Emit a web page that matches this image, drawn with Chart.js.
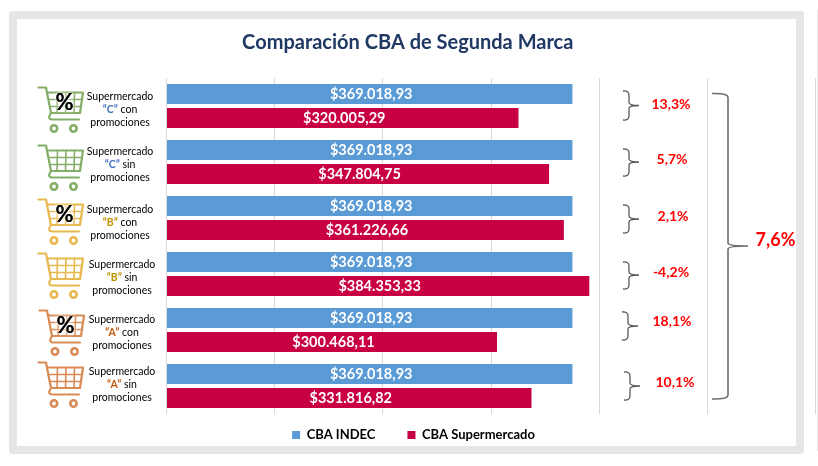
<!DOCTYPE html>
<html>
<head>
<meta charset="utf-8">
<style>
  body { margin: 0; background: #fff; }
  #frame { position: absolute; left: 9px; top: 11px; width: 779px; height: 427px; border: 8px solid #e6e6e6; border-radius: 3px; }
  #edge { position: absolute; left: 817px; top: 10px; width: 1px; height: 441px; background: #e8e8e8; }
  #c { position: absolute; left: 0; top: 0; }
</style>
</head>
<body>
<div id="frame"></div>
<div id="edge"></div>
<canvas id="c" width="818" height="466"></canvas>
<script src="https://cdn.jsdelivr.net/npm/chart.js@4/dist/chart.umd.js"></script>
<script>
const categories = [
  'Supermercado “C” con promociones',
  'Supermercado “C” sin promociones',
  'Supermercado “B” con promociones',
  'Supermercado “B” sin promociones',
  'Supermercado “A” con promociones',
  'Supermercado “A” sin promociones'
];
const cbaIndec = [369018.93, 369018.93, 369018.93, 369018.93, 369018.93, 369018.93];
const cbaSuper = [320005.29, 347804.75, 361226.66, 384353.33, 300468.11, 331816.82];
const diffs = [13.3, 5.7, 2.1, -4.2, 18.1, 10.1];
const totalDiff = 7.6;

const FONT = 'Lato, Carlito, sans-serif';
const BLUE = '#5b9bd5';
const RED = '#c80041';

// cart colour and brand text colour per row
const cartColors = ['#84ae67', '#84ae67', '#e8b84e', '#e8b84e', '#d98b56', '#d98b56'];
const brandColors = ['#4472c4', '#4472c4', '#bf9000', '#bf9000', '#c55a11', '#c55a11'];
const hasPercent = [true, false, true, false, true, false];

// hand placed decoration, all in page pixels
const cartPos = [[38, 87], [38, 145], [38, 199], [38, 253], [39, 310], [38, 362]];
const labelPos = [[120, 110], [120, 165], [120, 223], [122, 278], [122, 333], [122, 385]];
const diffPos = [[671, 104], [672, 159], [673, 216], [671, 272], [672, 321], [675, 382]];
const bracePos = [
  [623, 91, 120, 105.5], [623, 149, 176, 162], [623, 205, 233, 219],
  [623, 262, 289, 275], [622, 312, 340, 326], [624, 372, 400, 386]
];

function fmtMoney(v) {
  return '$' + v.toLocaleString('es-AR', { minimumFractionDigits: 2, maximumFractionDigits: 2 });
}

function fmtPct(v) {
  return v.toFixed(1).replace('.', ',') + '%';
}

function drawCart(ctx, x, y, color, withPercent) {
  ctx.save();
  ctx.translate(x, y);
  ctx.strokeStyle = color;
  ctx.lineCap = 'round';
  ctx.lineJoin = 'round';
  ctx.lineWidth = 2.2;
  // handle, stem and tray
  ctx.beginPath();
  ctx.moveTo(0.5, 0.5);
  ctx.lineTo(8, 0.5);
  ctx.lineTo(13, 26);
  ctx.quadraticCurveTo(9, 32, 14, 32.5);
  ctx.lineTo(41, 32.5);
  ctx.stroke();
  // basket
  ctx.beginPath();
  ctx.moveTo(10, 5.5);
  ctx.lineTo(45, 5.5);
  ctx.lineTo(42, 26);
  ctx.lineTo(13, 26);
  ctx.stroke();
  // basket grid
  ctx.lineWidth = 1.6;
  ctx.beginPath();
  [19.5, 28, 36.5].forEach(gx => {
    ctx.moveTo(gx, 5.5);
    ctx.lineTo(gx - 0.5, 26);
  });
  ctx.moveTo(11, 12.5);
  ctx.lineTo(44, 12.5);
  ctx.moveTo(12, 19.5);
  ctx.lineTo(43, 19.5);
  ctx.stroke();
  // wheels
  ctx.lineWidth = 2.6;
  [16, 35.5].forEach(wx => {
    ctx.beginPath();
    ctx.arc(wx, 41.5, 3.2, 0, Math.PI * 2);
    ctx.stroke();
  });
  if (withPercent) {
    ctx.font = 'bold 22px ' + FONT;
    ctx.textAlign = 'center';
    ctx.textBaseline = 'middle';
    ctx.shadowColor = '#fff';
    ctx.shadowBlur = 5;
    ctx.fillStyle = '#000';
    ctx.fillText('%', 26.5, 16);
    ctx.fillText('%', 26.5, 16);
  }
  ctx.restore();
}

function drawBrace(ctx, x, top, bottom, tipY, arm, tipX) {
  ctx.beginPath();
  ctx.moveTo(x, top);
  ctx.quadraticCurveTo(x + arm, top - 0.5, x + arm, top + 4);
  ctx.lineTo(x + arm, tipY - 3);
  ctx.quadraticCurveTo(x + arm, tipY, tipX, tipY);
  ctx.quadraticCurveTo(x + arm, tipY, x + arm, tipY + 3);
  ctx.lineTo(x + arm, bottom - 4);
  ctx.quadraticCurveTo(x + arm, bottom + 0.5, x, bottom);
  ctx.stroke();
}

const annotations = {
  id: 'annotations',
  afterLayout(chart) {
    // legend needs wide item spacing but sits higher than that padding would put it
    chart.legend.top -= 17.5;
    chart.legend.left += 5.75;
    chart.legend.right += 5.75;
  },
  afterDatasetsDraw(chart) {
    const ctx = chart.ctx;
    ctx.save();

    // values inside the bars
    ctx.font = 'bold 14.5px ' + FONT;
    ctx.fillStyle = '#fff';
    ctx.textAlign = 'center';
    ctx.textBaseline = 'middle';
    chart.data.datasets.forEach((ds, d) => {
      chart.getDatasetMeta(d).data.forEach((bar, i) => {
        ctx.fillText(fmtMoney(ds.data[i]), (bar.base + bar.x) / 2 + 1.5, bar.y + 0.5);
      });
    });

    // row labels and carts
    categories.forEach((cat, i) => {
      const words = cat.split(' ');
      const [cx, cy] = labelPos[i];
      ctx.font = '10.5px ' + FONT;
      ctx.fillStyle = '#000';
      ctx.textAlign = 'center';
      ctx.fillText(words[0], cx, cy - 13);
      ctx.fillText(words[3], cx, cy + 13);
      // middle line mixes a coloured brand with plain text
      const rest = ' ' + words[2];
      const restW = ctx.measureText(rest).width;
      ctx.font = 'bold 10.5px ' + FONT;
      const brandW = ctx.measureText(words[1]).width;
      const startX = cx - (brandW + restW) / 2;
      ctx.textAlign = 'left';
      ctx.fillStyle = brandColors[i];
      ctx.fillText(words[1], startX, cy);
      ctx.font = '10.5px ' + FONT;
      ctx.fillStyle = '#000';
      ctx.fillText(rest, startX + brandW, cy);
      drawCart(ctx, cartPos[i][0], cartPos[i][1], cartColors[i], hasPercent[i]);
    });

    // braces and differences
    ctx.strokeStyle = '#595959';
    ctx.lineWidth = 1.3;
    bracePos.forEach(b => drawBrace(ctx, b[0], b[1], b[2], b[3], 6, b[0] + 16));
    ctx.strokeStyle = '#6f6f6f';
    ctx.lineWidth = 1.6;
    drawBrace(ctx, 712, 93.5, 399, 246, 16, 748);

    ctx.fillStyle = '#ff0000';
    ctx.textAlign = 'center';
    ctx.font = 'bold 14px ' + FONT;
    diffs.forEach((v, i) => ctx.fillText(fmtPct(v), diffPos[i][0], diffPos[i][1]));
    ctx.font = 'bold 18px ' + FONT;
    ctx.fillText(fmtPct(totalDiff), 775.5, 240);
    ctx.restore();
  }
};

new Chart(document.getElementById('c').getContext('2d'), {
  type: 'bar',
  data: {
    labels: categories,
    datasets: [
      { label: 'CBA INDEC', data: cbaIndec, backgroundColor: BLUE, categoryPercentage: 48 / 56, barPercentage: 20 / 24 },
      { label: 'CBA Supermercado', data: cbaSuper, backgroundColor: RED, categoryPercentage: 48 / 56, barPercentage: 20 / 24 }
    ]
  },
  plugins: [annotations],
  options: {
    indexAxis: 'y',
    responsive: false,
    animation: false,
    layout: { padding: { left: 0, right: 2.5, top: 0, bottom: -3 } },
    scales: {
      x: {
        min: 0,
        max: 590000,
        ticks: { display: false, stepSize: 100000 },
        grid: { color: '#d9d9d9', drawTicks: false },
        border: { display: false }
      },
      y: {
        ticks: { display: false },
        grid: { display: false },
        border: { display: false },
        afterFit(scale) { scale.width = 166.5; }
      }
    },
    plugins: {
      title: {
        display: true,
        text: 'Comparación CBA de Segunda Marca',
        color: '#1f3864',
        font: { family: FONT, size: 20, weight: 'bold', lineHeight: 1.2 },
        padding: { top: 31, bottom: 23 }
      },
      legend: {
        position: 'bottom',
        labels: {
          color: '#000',
          font: { family: FONT, size: 13, weight: 'bold' },
          boxWidth: 8,
          boxHeight: 8,
          padding: 32
        }
      },
      tooltip: { enabled: false }
    }
  }
});
</script>
</body>
</html>
